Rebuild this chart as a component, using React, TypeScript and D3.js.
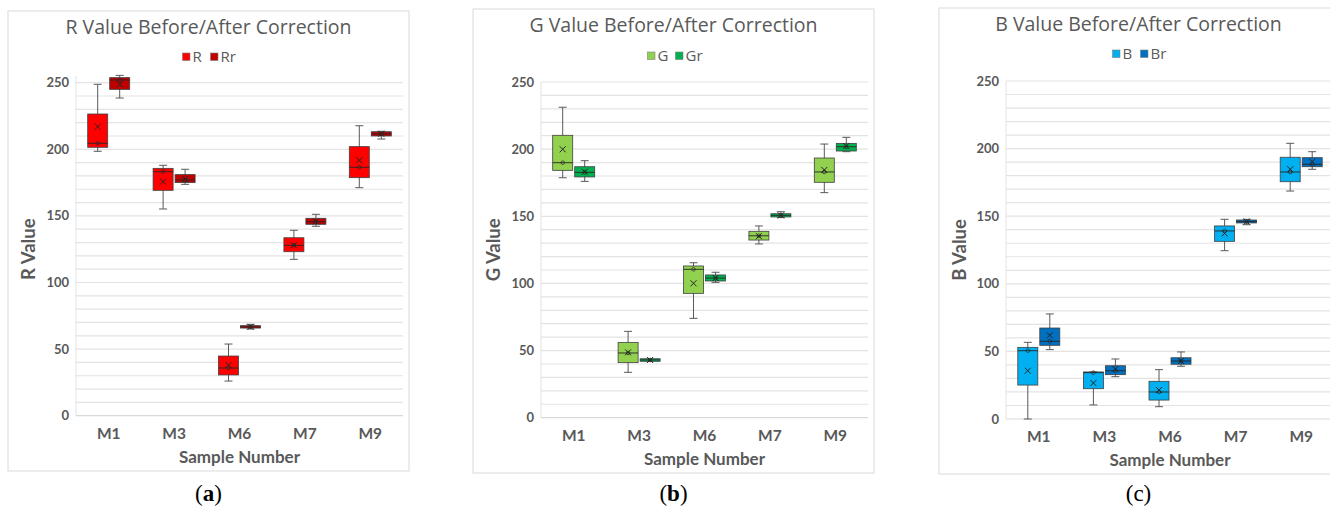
import React from "react";
import * as d3 from "d3";

const samples = ["M1", "M3", "M6", "M7", "M9"];
const yTicks = [0, 50, 100, 150, 200, 250];
const gridTicks = d3.range(10, 251, 10);

// each entry: [whisker low, q1, median, q3, whisker high, mean]
const rBefore = [
  [198.5, 201.5, 204.5, 226.5, 248.8, 217],
  [155.2, 169.2, 183.2, 185.7, 188, 175.7],
  [26, 30.6, 35.8, 44.8, 53.8, 38],
  [117.4, 123.1, 127.9, 133.6, 139.2, 128],
  [171.2, 178.7, 186.5, 202, 217.7, 191.7]
];
const rAfter = [
  [238.5, 245, 252, 253.8, 255.5, 248.8],
  [173.7, 175, 177, 181, 185, 177.7],
  [65.1, 65.8, 66.7, 67.6, 68.6, 66.7],
  [142.2, 143.7, 145.6, 148.2, 151.2, 145.8],
  [207.7, 210, 211.6, 213.2, 213.5, 211.6]
];
const gBefore = [
  [178.7, 184.2, 189.9, 210.3, 231.2, 199.9],
  [33.8, 41, 48.2, 56.1, 64.3, 48.7],
  [74, 92.6, 110.5, 113, 115.4, 100.1],
  [129.4, 132.3, 135.5, 138.8, 142.8, 135.2],
  [167.6, 175.3, 183, 193.4, 203.8, 184.5]
];
const gAfter = [
  [176, 179.3, 182.7, 186.9, 191.4, 183.2],
  [42.3, 42, 43, 43.9, 43.5, 43],
  [100.8, 101.8, 104, 106.3, 108.3, 104],
  [149, 149.5, 150.7, 151.9, 153.4, 150.7],
  [198.1, 198.6, 201.8, 204.3, 208.8, 202.3]
];
const bBefore = [
  [0, 25.1, 50.5, 53, 56.7, 35.7],
  [10.4, 22.4, 34.3, 34.8, 34.8, 26.6],
  [9.1, 14, 20, 27.9, 36.5, 21.4],
  [124.5, 131.4, 139.1, 142.8, 147.7, 137.3],
  [168.6, 175.5, 182.7, 193.6, 203.9, 184.7]
];
const bAfter = [
  [51.3, 54.5, 57.5, 67.3, 77.7, 61.9],
  [31.3, 32.8, 35.7, 39.4, 44.4, 37],
  [39, 40.5, 42.9, 45.3, 49.6, 42.9],
  [143.7, 145, 146, 147.2, 147.7, 146],
  [184.7, 186.6, 188.4, 193.3, 197.7, 190.3]
];

const panels = [
  {
    title: "R Value Before/After Correction", axis: "R Value", keys: ["R", "Rr"],
    colors: ["#ff0000", "#c00000"], series: [rBefore, rAfter], cap: "a", boldCap: true,
    frame: [8, 11, 401, 460], plot: [76, 403], y0: 415.7, y250: 82.7, yMax: 255,
    titleY: 34, legendY: 57
  },
  {
    title: "G Value Before/After Correction", axis: "G Value", keys: ["G", "Gr"],
    colors: ["#92d050", "#00b050"], series: [gBefore, gAfter], cap: "b", boldCap: true,
    frame: [473, 9, 401, 464], plot: [541, 868], y0: 417.7, y250: 82, yMax: 250,
    titleY: 32, legendY: 56
  },
  {
    title: "B Value Before/After Correction", axis: "B Value", keys: ["B", "Br"],
    colors: ["#00b0f0", "#0070c0"], series: [bBefore, bAfter], cap: "c", boldCap: false,
    frame: [939, 8, 399, 466], plot: [1006, 1334], y0: 419, y250: 81, yMax: 250,
    titleY: 31, legendY: 54
  }
];

const txt = "#595959";
const font = "Lato, 'Open Sans', sans-serif";
const titleFont = "'Open Sans', Lato, sans-serif";

function Panel({ p }: { p: any }) {
  const [fx, fy, fw, fh] = p.frame;
  const cx = fx + fw / 2;
  const x = d3.scaleBand().domain(samples).range(p.plot).paddingInner(0).paddingOuter(0);
  const y = d3.scaleLinear().domain([0, 250]).range([p.y0, p.y250]);
  const bw = 20;
  const gap = 2;
  const capW = 8;

  return (
    <g>
      <rect x={fx} y={fy} width={fw} height={fh} fill="#fff" stroke="#d9d9d9" />
      <text x={cx} y={p.titleY} textAnchor="middle" fontFamily={titleFont} fontSize={19.5} fill={txt}>
        {p.title}
      </text>
      {/* legend */}
      <g fontFamily={titleFont} fontSize={15} fill={txt}>
        {p.keys.map((k: string, i: number) => {
          const lx = cx - 26 + i * 28;
          return (
            <g key={k}>
              <rect x={lx} y={p.legendY - 4} width={7.5} height={7.5} fill={p.colors[i]} stroke="#7f7f7f" strokeWidth={0.6} />
              <text x={lx + 10} y={p.legendY + 5}>{k}</text>
            </g>
          );
        })}
      </g>
      {/* grid */}
      {gridTicks.map(t => (
        <line key={t} x1={p.plot[0]} x2={p.plot[1]} y1={y(t)} y2={y(t)} stroke="#e3e3e3" strokeWidth={1.2} />
      ))}
      <line x1={p.plot[0]} x2={p.plot[1]} y1={y(0)} y2={y(0)} stroke="#d9d9d9" strokeWidth={1.2} />
      <line x1={p.plot[0]} x2={p.plot[0]} y1={y(0)} y2={y(p.yMax)} stroke="#e3e3e3" strokeWidth={1} />
      {yTicks.map(t => (
        <text key={t} x={p.plot[0] - 7} y={y(t) + 4.5} textAnchor="end" fontFamily={font}
          fontWeight="bold" fontSize={13} fill={txt}>{t}</text>
      ))}
      {samples.map(s => (
        <text key={s} x={(x(s) as number) + x.bandwidth() / 2} y={p.y0 + 23} textAnchor="middle"
          fontFamily={font} fontWeight="bold" fontSize={15.5} fill={txt}>{s}</text>
      ))}
      <text x={(p.plot[0] + p.plot[1]) / 2} y={p.y0 + 47} textAnchor="middle" fontFamily={font}
        fontWeight="bold" fontSize={17} fill={txt}>Sample Number</text>
      <text transform={`translate(${fx + 27},${(p.y0 + p.y250) / 2}) rotate(-90)`} textAnchor="middle"
        fontFamily={font} fontWeight="bold" fontSize={18.5} fill={txt}>{p.axis}</text>
      {/* boxes */}
      {p.series.map((ser: number[][], si: number) =>
        ser.map((d, i) => {
          const c = (x(samples[i]) as number) + x.bandwidth() / 2;
          const left = si === 0 ? c - gap / 2 - bw : c + gap / 2;
          const mid = left + bw / 2;
          const [lo, q1, med, q3, hi, mean] = d;
          const boxTop = Math.min(y(q1), y(q3));
          const boxH = Math.max(Math.abs(y(q1) - y(q3)), 1.5);
          const my = y(mean);
          return (
            <g key={`${si}-${i}`}>
              <line x1={mid} x2={mid} y1={y(hi)} y2={y(lo)} stroke="#595959" strokeWidth={1} />
              <line x1={mid - capW / 2} x2={mid + capW / 2} y1={y(hi)} y2={y(hi)} stroke="#595959" />
              <line x1={mid - capW / 2} x2={mid + capW / 2} y1={y(lo)} y2={y(lo)} stroke="#595959" />
              <rect x={left} y={boxTop} width={bw} height={boxH} fill={p.colors[si]} stroke="#404040" strokeWidth={0.8} />
              <line x1={left} x2={left + bw} y1={y(med)} y2={y(med)} stroke="#262626" strokeWidth={0.9} />
              <circle cx={mid} cy={y(med)} r={1.8} fill="none" stroke="#262626" strokeWidth={0.7} />
              <path d={`M${mid - 3},${my - 3}L${mid + 3},${my + 3}M${mid - 3},${my + 3}L${mid + 3},${my - 3}`}
                stroke="#262626" strokeWidth={1} />
            </g>
          );
        })
      )}
      <text x={cx} y={501} textAnchor="middle" fontFamily="'Liberation Serif', serif" fontSize={23} fill="#000">
        (<tspan fontWeight={p.boldCap ? "bold" : "normal"}>{p.cap}</tspan>)
      </text>
    </g>
  );
}

export default function App() {
  return (
    <svg width={1330} height={508} style={{ position: "absolute", left: 0, top: 0, background: "#fff" }}>
      <rect width={1330} height={508} fill="#fff" />
      {panels.map(p => (
        <Panel key={p.cap} p={p} />
      ))}
    </svg>
  );
}
